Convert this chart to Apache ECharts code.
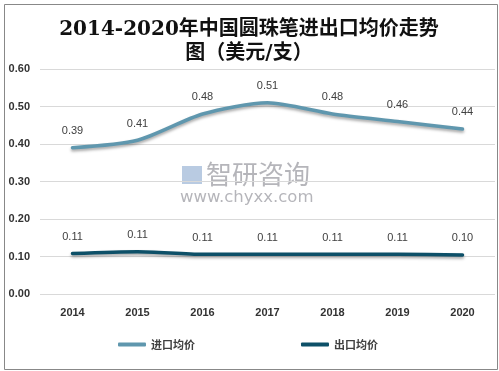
<!DOCTYPE html>
<html><head><meta charset="utf-8">
<script src="https://cdn.jsdelivr.net/npm/echarts@6/dist/echarts.min.js"></script>
<style>html,body{margin:0;padding:0;background:#fff}#c{width:499px;height:371px}</style>
</head><body><div id="c"></div>
<script>
var years = ['2014','2015','2016','2017','2018','2019','2020'];
var importPrice = [0.39, 0.41, 0.48, 0.51, 0.48, 0.46, 0.44];
var exportPrice = [0.108, 0.113, 0.106, 0.106, 0.106, 0.106, 0.104];
var seriesNames = ['进口均价', '出口均价'];
var titleText = '2014-2020年中国圆珠笔进出口均价走势\n图（美元/支）';
var colors = ['#5f97ae', '#0d5068'];

var chart = echarts.init(document.getElementById('c'));
var labelStyle = {show: true, position: 'top', distance: 11, color: '#404040', fontSize: 11,
  fontFamily: 'Liberation Sans, Arial, sans-serif', formatter: function(p){return p.value.toFixed(2);}};
chart.setOption({
  animation: false,
  backgroundColor: '#fff',
  graphic: [
    {type: 'rect', left: 2, top: 2, shape: {width: 493, height: 365}, style: {fill: 'none', stroke: '#888', lineWidth: 1}, silent: true},
    {type: 'text', x: 249, y: 18, style: {text: titleText, align: 'center', fontSize: 20, fontWeight: 600, fill: '#111', lineHeight: 24,
      fontFamily: 'DejaVu Serif, Noto Sans CJK SC, serif'}},
    {type: 'text', left: 206, top: 161, style: {text: '智研咨询', fontSize: 26, fill: 'rgba(120,120,130,0.55)', fontFamily: 'Noto Sans CJK SC'}, z: 0},
    {type: 'text', left: 180, top: 189, style: {text: 'www.chyxx.com', fontSize: 16.5, fill: 'rgba(120,120,130,0.55)', fontFamily: 'DejaVu Sans'}, z: 0},
    {type: 'rect', left: 182, top: 166, shape: {width: 20, height: 18}, style: {fill: 'rgba(100,140,190,0.45)'}, z: 0}
  ],
  legend: {bottom: 16, itemGap: 106, itemWidth: 28, itemHeight: 4, icon: 'roundRect',
    textStyle: {fontSize: 11, fontWeight: 'bold', color: '#404040', fontFamily: 'Noto Sans CJK SC'},
    data: [{name: seriesNames[0], itemStyle: {color: colors[0], opacity: 1}}, {name: seriesNames[1], itemStyle: {color: colors[1], opacity: 1}}],
    left: 113},
  grid: {left: 40, right: 4, top: 69, bottom: 77},
  xAxis: {type: 'category', data: years, boundaryGap: true,
    axisLine: {show: false}, axisTick: {show: false},
    axisLabel: {color: '#333', fontWeight: 'bold', fontSize: 11, margin: 13, fontFamily: 'Liberation Sans, Arial, sans-serif'}},
  yAxis: {type: 'value', min: 0, max: 0.6, interval: 0.1,
    axisLabel: {color: '#333', fontWeight: 'bold', fontSize: 11, margin: 10, fontFamily: 'Liberation Sans, Arial, sans-serif',
      formatter: function(v){return v.toFixed(2);}},
    splitLine: {lineStyle: {color: '#d9d9d9'}}},
  series: [
    {name: seriesNames[0], type: 'line', data: importPrice, smooth: 0.25, symbol: 'circle', symbolSize: 0.1, showSymbol: true,
      lineStyle: {color: colors[0], width: 3.5, cap: 'round', shadowColor: 'rgba(0,0,0,0.35)', shadowBlur: 3, shadowOffsetY: 2},
      itemStyle: {color: colors[0]}, label: labelStyle},
    {name: seriesNames[1], type: 'line', data: exportPrice, smooth: 0.25, symbol: 'circle', symbolSize: 0.1, showSymbol: true,
      lineStyle: {color: colors[1], width: 3.5, cap: 'round', shadowColor: 'rgba(0,0,0,0.35)', shadowBlur: 3, shadowOffsetY: 2},
      itemStyle: {color: colors[1]}, label: labelStyle}
  ]
});
</script></body></html>
